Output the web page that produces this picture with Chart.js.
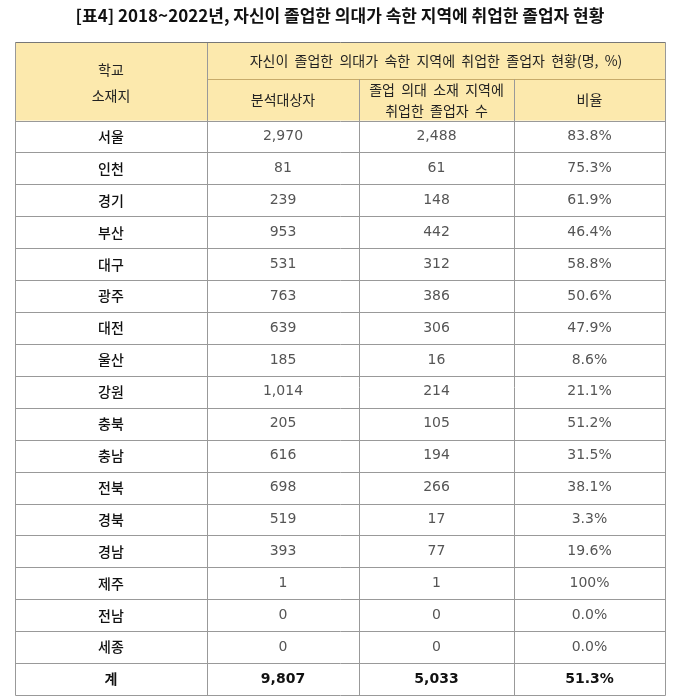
<!DOCTYPE html>
<html><head><meta charset="utf-8">
<script src="https://cdn.jsdelivr.net/npm/chart.js@4"></script>
<style>body{margin:0;background:#fff}#wrap{width:677px;height:700px}</style>
</head><body><div id="wrap"><canvas id="c"></canvas></div>
<script>
const regions = ['서울','인천','경기','부산','대구','광주','대전','울산','강원','충북','충남','전북','경북','경남','제주','전남','세종','계'];
const targets = ['2,970','81','239','953','531','763','639','185','1,014','205','616','698','519','393','1','0','0','9,807'];
const employed = ['2,488','61','148','442','312','386','306','16','214','105','194','266','17','77','1','0','0','5,033'];
const ratios = ['83.8%','75.3%','61.9%','46.4%','58.8%','50.6%','47.9%','8.6%','21.1%','51.2%','31.5%','38.1%','3.3%','19.6%','100%','0.0%','0.0%','51.3%'];
const columns = [regions, targets, employed, ratios];

const colEdges = [0, 192, 344, 499, 650];
const HEAD = 2.45;   // header height in row units
const SUB = 1.14;    // top header line

const tablePlugin = {
  id: 'table',
  afterDatasetsDraw(chart) {
    const {ctx, scales: {x, y}} = chart;
    const X = v => x.getPixelForValue(v), Y = v => y.getPixelForValue(v);
    ctx.save();
    ctx.fillStyle = '#fce9ad';
    ctx.fillRect(X(0), Y(0), X(650) - X(0), Y(HEAD) - Y(0));
    ctx.strokeStyle = '#c7ab6a'; ctx.lineWidth = 1;
    const line = (x1, y1, x2, y2) => { ctx.beginPath(); ctx.moveTo(Math.round(x1)+.5, Math.round(y1)+.5); ctx.lineTo(Math.round(x2)+.5, Math.round(y2)+.5); ctx.stroke(); };
    line(X(colEdges[1]), Y(SUB), X(650), Y(SUB));
    ctx.strokeStyle = '#999';
    for (let r = 0; r <= regions.length; r++) line(X(0), Y(HEAD + r), X(650), Y(HEAD + r));
    colEdges.forEach((c, i) => line(X(c), (i === 2 || i === 3) ? Y(SUB) : Y(0), X(c), Y(HEAD + regions.length)));
    ctx.strokeStyle = '#777';
    line(X(0), Y(0), X(650), Y(0));
    // header text
    ctx.textAlign = 'center'; ctx.textBaseline = 'middle';
    ctx.fillStyle = '#222'; ctx.font = '14px "Noto Sans CJK KR"';
    const mid = i => (X(colEdges[i]) + X(colEdges[i + 1])) / 2;
    ctx.fillText('학교', mid(0), Y(HEAD / 2) - 12);
    ctx.fillText('소재지', mid(0), Y(HEAD / 2) + 14);
    ctx.fillText('자신이  졸업한  의대가  속한  지역에  취업한  졸업자  현황(명,  %)', (X(colEdges[1]) + X(650)) / 2, Y(SUB / 2));
    const subY = Y((SUB + HEAD) / 2);
    ctx.fillText('분석대상자', mid(1), subY);
    ctx.fillText('졸업  의대  소재  지역에', mid(2), subY - 10);
    ctx.fillText('취업한  졸업자  수', mid(2), subY + 11);
    ctx.fillText('비율', mid(3), subY);
    // body
    regions.forEach((_, r) => {
      const cy = Y(HEAD + r + 0.5);
      const last = r === regions.length - 1;
      columns.forEach((col, i) => {
        if (i === 0) { ctx.fillStyle = '#111'; ctx.font = (last ? 'bold ' : '500 ') + '14px "Noto Sans CJK KR"'; }
        else { ctx.fillStyle = last ? '#111' : '#555'; ctx.font = (last ? 'bold ' : '') + '14px "DejaVu Sans"'; }
        ctx.fillText(col[r], mid(i), cy);
      });
    });
    ctx.restore();
  }
};

const points = [];
columns.forEach((col, i) => col.forEach((v, r) => points.push({x: (colEdges[i] + colEdges[i + 1]) / 2, y: HEAD + r + 0.5})));

new Chart(document.getElementById('c'), {
  type: 'scatter',
  data: { datasets: [{ data: points, pointRadius: 0 }] },
  options: {
    responsive: true, maintainAspectRatio: false, animation: false,
    layout: { padding: { left: 15, right: 12, top: 3, bottom: 5 } },
    scales: {
      x: { display: false, min: 0, max: 650 },
      y: { display: false, min: 0, max: HEAD + regions.length, reverse: true }
    },
    plugins: {
      legend: { display: false }, tooltip: { enabled: false },
      title: { display: true, text: '[표4] 2018~2022년, 자신이 졸업한 의대가 속한 지역에 취업한 졸업자 현황',
        color: '#111', font: { family: '"Noto Sans CJK KR"', size: 17, weight: 'bold' }, padding: { top: 2, bottom: 17 } }
    }
  },
  plugins: [tablePlugin]
});
</script></body></html>
